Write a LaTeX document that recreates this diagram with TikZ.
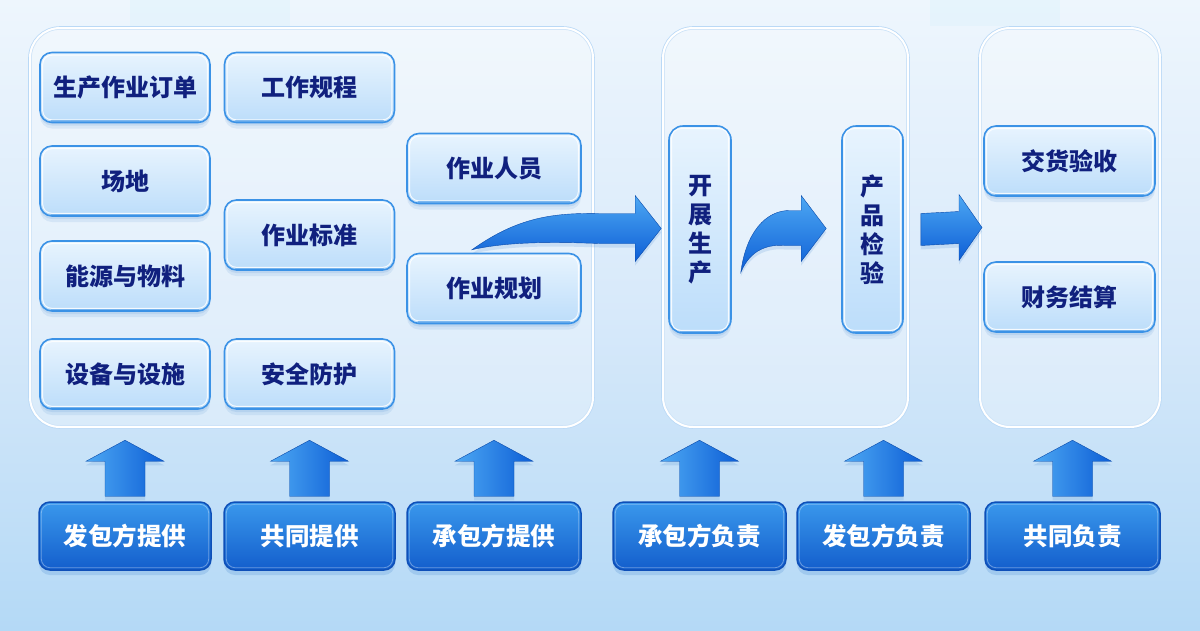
\documentclass[tikz,border=0pt]{standalone}
\usepackage{fontspec}
\newfontfamily\cjk{Noto Sans CJK SC}
\usetikzlibrary{calc,shadows}
\definecolor{bgtop}{HTML}{EEF6FD}
\definecolor{bgmid}{HTML}{D7E9FA}
\definecolor{bgbot}{HTML}{B4D9F6}
\definecolor{navy}{HTML}{10207E}
\definecolor{glassTop}{HTML}{E8F4FE}
\definecolor{glassBot}{HTML}{BCDDFA}
\definecolor{glassEdge}{HTML}{3B92E6}
\definecolor{btnTop}{HTML}{3A98EC}
\definecolor{btnBot}{HTML}{135ECC}
\definecolor{btnEdge}{HTML}{0E4FB8}
\definecolor{arrTop}{HTML}{4DA8F3}
\definecolor{arrBot}{HTML}{0D5ED6}
\definecolor{shadowc}{HTML}{2F78C8}
\definecolor{tint}{HTML}{CDEFFC}
\tikzset{
  x=1pt, y=-1pt,
  glass/.style={rounded corners=12pt, top color=glassTop, bottom color=glassBot,
    draw=glassEdge, line width=1.6pt, inner sep=0pt, text=navy,
    font=\cjk\bfseries\fontsize{24}{29}\selectfont,
    drop shadow={shadow xshift=0pt, shadow yshift=-6pt, fill=shadowc, opacity=.10},
    drop shadow={shadow xshift=0pt, shadow yshift=-3pt, fill=shadowc, opacity=.12}},
  vglass/.style={glass, align=center, rounded corners=14pt},
  button/.style={rounded corners=11pt, top color=btnTop, bottom color=btnBot,
    draw=btnEdge, line width=1.5pt, inner sep=0pt, text=white,
    font=\cjk\bfseries\fontsize{24.5}{29}\selectfont,
    minimum height=68pt,
    drop shadow={shadow xshift=0pt, shadow yshift=-5pt, fill=shadowc, opacity=.18}},
  panel/.style={rounded corners=30pt, fill=white, fill opacity=.28, draw=white,
    line width=2pt, inner sep=0pt, preaction={draw=glassEdge!35, line width=3.6pt}},
  hl/.style={draw=white, line width=1pt, rounded corners=9pt, opacity=.85},
  bedge/.style={draw=glassEdge, line width=1.6pt, opacity=.55, line cap=round},
  bhl/.style={draw=white, line width=.8pt, rounded corners=9pt, opacity=.35},
  arrowfill/.style={top color=arrTop, bottom color=arrBot, draw=arrBot!80!black, line width=.4pt,
    drop shadow={shadow xshift=0pt, shadow yshift=-4pt, fill=shadowc, opacity=.15}},
  uparrow/.pic={
    \path[left color=arrTop, right color=arrBot, draw=arrBot!80!black, line width=.4pt,
      drop shadow={shadow xshift=0pt, shadow yshift=-4pt, fill=shadowc, opacity=.15}]
      (-20,0) -- (-20,-35) -- (-39,-35) -- (0,-56) -- (39,-35) -- (20,-35) -- (20,0) -- cycle;
  }
}
\begin{document}
\begin{tikzpicture}
\useasboundingbox (0,0) rectangle (1200,630);
\shade[top color=bgtop, bottom color=bgbot, middle color=bgmid] (0,0) rectangle (1200,630);
\fill[tint, opacity=.22] (130,0) rectangle (290,26);
\fill[tint, opacity=.22] (930,0) rectangle (1060,26);

% panels
\node[panel, minimum width=563pt, minimum height=399pt] (pL) at (311.5,227.5) {};
\node[panel, minimum width=245pt, minimum height=399pt] (pM) at (785.5,227.5) {};
\node[panel, minimum width=180pt, minimum height=399pt] (pR) at (1070,227.5) {};

% left boxes
\node[glass, minimum width=170pt, minimum height=70pt] (o1) at (125,87.5) {生产作业订单};
\node[glass, minimum width=170pt, minimum height=70pt] (o2) at (309.5,87.5) {工作规程};
\node[glass, minimum width=170pt, minimum height=70pt] (o3) at (125,181) {场地};
\node[glass, minimum width=170pt, minimum height=70pt] (o4) at (309.5,235) {作业标准};
\node[glass, minimum width=170pt, minimum height=70pt] (o5) at (125,276) {能源与物料};
\node[glass, minimum width=170pt, minimum height=70pt] (o6) at (125,374) {设备与设施};
\node[glass, minimum width=170pt, minimum height=70pt] (o7) at (309.5,374) {安全防护};
\node[glass, minimum width=174pt, minimum height=70pt] (o8) at (494,168.5) {作业人员};
\node[glass, minimum width=174pt, minimum height=70pt] (o9) at (494,288.5) {作业规划};

% middle
\node[vglass, minimum width=62pt, minimum height=207pt] (kz) at (700,229.5) {开\\展\\生\\产};
\node[vglass, minimum width=61pt, minimum height=207pt] (jy) at (872.5,229.5) {产\\品\\检\\验};

% right
\node[glass, minimum width=171pt, minimum height=70pt] (jh) at (1069.5,161) {交货验收};
\node[glass, minimum width=171pt, minimum height=70pt] (cw) at (1069.5,297) {财务结算};

\foreach \n in {o1,o2,o3,o4,o5,o6,o7,o8,o9,kz,jy,jh,cw}{
  \draw[hl] ([xshift=3.5pt,yshift=-3.5pt]\n.north west) rectangle ([xshift=-3.5pt,yshift=3.5pt]\n.south east);
  \draw[bedge] ([xshift=12pt,yshift=2.2pt]\n.south west) -- ([xshift=-12pt,yshift=2.2pt]\n.south east);
}

% buttons
\node[button, minimum width=172pt] (b1) at (125,536) {发包方提供};
\node[button, minimum width=171pt] (b2) at (309.5,536) {共同提供};
\node[button, minimum width=174pt] (b3) at (494,536) {承包方提供};
\node[button, minimum width=173pt] (b4) at (699.5,536) {承包方负责};
\node[button, minimum width=173pt] (b5) at (883.5,536) {发包方负责};
\node[button, minimum width=175pt] (b6) at (1072.5,536) {共同负责};
\foreach \n in {b1,b2,b3,b4,b5,b6}
  \draw[bhl] ([xshift=3pt,yshift=-3pt]\n.north west) rectangle ([xshift=-3pt,yshift=3pt]\n.south east);

% up arrows
\foreach \n in {b1,b2,b3,b4,b5,b6}
  \pic at ($(\n.north)+(0,-5)$) {uparrow};

% curved arrow: planning -> production
\coordinate (s1) at ($(o9.north)+(-22,-3)$);
\coordinate (t1) at ($(kz.west)+(-7,-1)$);
\path[arrowfill] (s1) .. controls ($(s1)+(45,-32)$) and ($(s1)+(80,-37)$) .. ($(t1)+(-62,-15)$)
  -- ($(t1)+(-26,-15)$) -- ($(t1)+(-26,-33)$) -- (t1) -- ($(t1)+(-26,33)$) -- ($(t1)+(-26,15)$)
  -- ($(t1)+(-62,15)$) .. controls ($(s1)+(80,-8)$) and ($(s1)+(35,-8)$) .. (s1) -- cycle;

% curved arrow: production -> inspection
\coordinate (s2) at ($(kz.east)+(9,43)$);
\coordinate (t2) at ($(jy.west)+(-15,-1)$);
\path[arrowfill] (s2) .. controls ($(s2)+(5,-40)$) and ($(s2)+(25,-62)$) .. ($(t2)+(-37,-18)$)
  -- ($(t2)+(-25,-18)$) -- ($(t2)+(-25,-33)$) -- (t2) -- ($(t2)+(-25,33)$) -- ($(t2)+(-25,17)$)
  -- ($(t2)+(-42,17)$) .. controls ($(s2)+(30,-28)$) and ($(s2)+(10,-25)$) .. (s2) -- cycle;

% straight arrow: inspection -> right panel
\coordinate (s3) at ($(jy.east)+(17,0)$);
\coordinate (t3) at ($(pR.west)+(3,0)$);
\path[arrowfill] ($(s3)+(0,-16)$) -- ($(t3)+(-23,-16)$) -- ($(t3)+(-23,-33)$) -- (t3)
  -- ($(t3)+(-23,33)$) -- ($(t3)+(-23,16)$) -- ($(s3)+(0,16)$) -- cycle;
\end{tikzpicture}
\end{document}
